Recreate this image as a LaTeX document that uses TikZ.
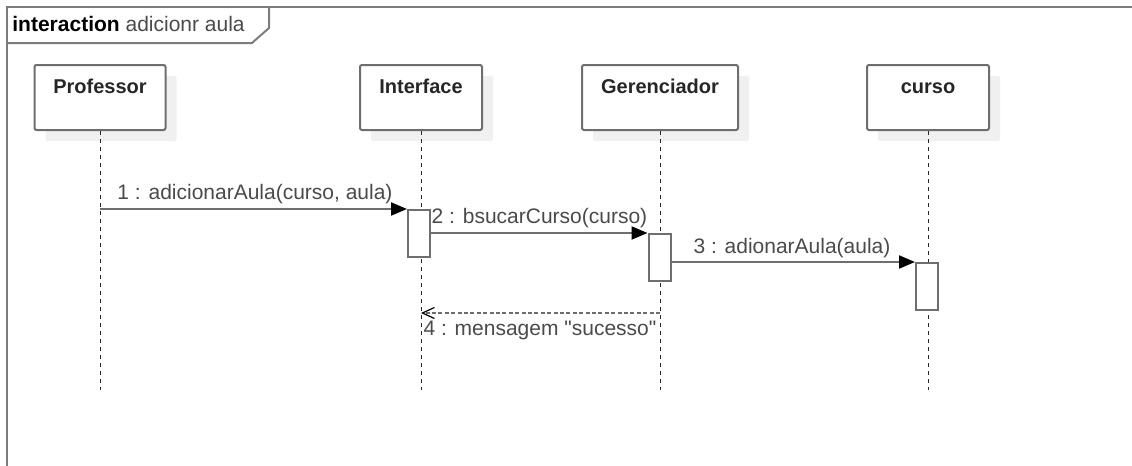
\documentclass[tikz,border=0pt]{standalone}
\usepackage{fontspec}
\setmainfont{Liberation Sans}[Ligatures=TeXOff]
\usetikzlibrary{arrows.meta,positioning,shadows}
\definecolor{linegray}{HTML}{6E6E6E}
\definecolor{framegray}{HTML}{7C7C7C}
\definecolor{shadowgray}{HTML}{F0F0F0}
\definecolor{textgray}{HTML}{4A4A4A}
\tikzset{
  objeto/.style={draw=linegray,line width=1pt,fill=white,rounded corners=1pt,
    minimum width=#1,minimum height=32.5pt,inner sep=0pt,
    drop shadow={shadow xshift=5.5pt,shadow yshift=-5.5pt,fill=shadowgray,opacity=1}},
  titulo/.style={anchor=base,font=\bfseries,text=black!85},
  ativacao/.style={draw=linegray,line width=1pt,fill=white,anchor=north,
    minimum width=11pt,minimum height=23.5pt,inner sep=0pt},
  vida/.style={black!85,line width=0.5pt,dash pattern=on 2pt off 2pt},
  msg/.style={linegray,line width=1pt,-{Triangle[length=8pt,width=6.5pt,color=black]}},
  retorno/.style={linegray,line width=1pt,dash pattern=on 2pt off 1.2pt,
    -{Straight Barb[length=6pt,width=5.5pt,color=black,line width=0.6pt]}},
  rotulo/.style={anchor=base,text=textgray},
}
\begin{document}
\begin{tikzpicture}  % ------ interaction adicionr aula ---------------
      [x=0.5pt,y=-0.5pt,font=\fontsize{10.5}{12.6}\selectfont]
    \useasboundingbox (0,0) rectangle (1132,466);
    % moldura
    \draw [framegray,line width=1pt] (7,470) -- (7,7) -- (1140,7);
    \draw [framegray,line width=1pt] (7,43) -- (252,43) -- (269,28) -- (269,7);
    \node [anchor=base west,inner sep=0pt] (moldura) at (12,32)
      {\textbf{interaction} \textcolor{textgray}{adicionr aula}};

    % objetos
    \node [objeto=65.5pt,anchor=north] (prof) at (100,64) {};
    \node [objeto=61pt,anchor=north]   (inter) at (421,64) {};
    \node [objeto=78pt,anchor=north]   (geren) at (660,64) {};
    \node [objeto=61pt,anchor=north]   (curso) at (928,64) {};
    \node [titulo] (prof-t)  at (100,93) {Professor};
    \node [titulo] (inter-t) at (421,93) {Interface};
    \node [titulo] (geren-t) at (660,93) {Gerenciador};
    \node [titulo] (curso-t) at (928,93) {curso};

    % linhas de vida
    \coordinate (prof-f)  at (100,390);
    \coordinate (inter-f) at (421,390);
    \coordinate (geren-f) at (660,390);
    \coordinate (curso-f) at (928,390);
    \draw [vida] (prof)  -- (prof-f);
    \draw [vida] (inter) -- (inter-f);
    \draw [vida] (geren) -- (geren-f);
    \draw [vida] (curso) -- (curso-f);

    % ativacoes
    \node [ativacao] (at1) at (419,209) {};
    \node [ativacao] (at2) at (659.5,233) {};
    \node [ativacao] (at3) at (927,262) {};

    % mensagens
    \coordinate (m1) at (100,209);
    \coordinate (r4a) at (660,313);
    \coordinate (r4b) at (421,313);
    \draw [msg] (m1) -- (at1.north west);
    \draw [msg] (at1.east |- at2.north west) -- (at2.north west);
    \draw [msg] (at2.east |- at3.north west) -- (at3.north west);
    \draw [retorno] (r4a) -- (r4b);
\begin{footnotesize}
    \node [rotulo] (l1) at (255,199) {1 : adicionarAula(curso, aula)};
    \node [rotulo] (l2) at (539.5,223) {2 : bsucarCurso(curso)};
    \node [rotulo] (l3) at (792,253) {3 : adionarAula(aula)};
    \node [rotulo] (l4) at (540,335) {4 : mensagem "sucesso"};
\end{footnotesize}
\end{tikzpicture}
\end{document}
